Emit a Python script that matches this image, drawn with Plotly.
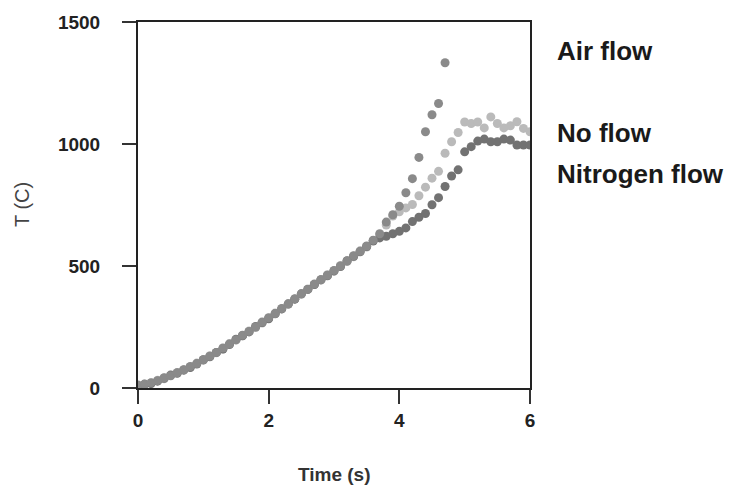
import plotly.graph_objects as go

# ---- data ----
time_common = [0.0, 0.1, 0.2, 0.3, 0.4, 0.5, 0.6, 0.7, 0.8, 0.9,
               1.0, 1.1, 1.2, 1.3, 1.4, 1.5, 1.6, 1.7, 1.8, 1.9,
               2.0, 2.1, 2.2, 2.3, 2.4, 2.5, 2.6, 2.7, 2.8, 2.9,
               3.0, 3.1, 3.2, 3.3, 3.4, 3.5, 3.6, 3.7]

air_time = time_common + [3.8, 3.9, 4.0, 4.1, 4.2, 4.3, 4.4, 4.5, 4.6, 4.7]
air_temp = [12, 16, 22, 30, 42, 50, 62, 75, 88, 100,
            116, 130, 146, 164, 180, 198, 216, 232, 250, 270,
            288, 305, 326, 344, 366, 386, 404, 426, 444, 462,
            482, 500, 520, 542, 560, 582, 606, 632,
            680, 710, 745, 800, 858, 945, 1050, 1120, 1166, 1333]

noflow_time = time_common + [3.8, 3.9, 4.0, 4.1, 4.2, 4.3, 4.4, 4.5, 4.6, 4.7,
                             4.8, 4.9, 5.0, 5.1, 5.2, 5.3, 5.4, 5.5, 5.6, 5.7,
                             5.8, 5.9, 6.0]
noflow_temp = [8, 14, 20, 32, 38, 54, 64, 72, 86, 102,
               114, 132, 144, 160, 182, 196, 214, 234, 248, 266,
               286, 307, 324, 346, 364, 384, 406, 424, 442, 464,
               478, 502, 518, 538, 562, 578, 604, 628,
               668, 705, 722, 738, 752, 788, 823, 860, 888, 962,
               1009, 1047, 1090, 1084, 1090, 1066, 1111, 1084, 1066, 1075,
               1091, 1064, 1050]

nitrogen_time = noflow_time
nitrogen_temp = [10, 15, 18, 28, 40, 52, 60, 74, 84, 98,
                 116, 128, 146, 160, 178, 200, 214, 230, 252, 268,
                 284, 304, 324, 344, 364, 386, 404, 424, 444, 460,
                 480, 498, 522, 540, 558, 580, 602, 615,
                 622, 632, 642, 656, 682, 700, 715, 751, 780, 826,
                 869, 894, 968, 989, 1012, 1020, 1009, 1009, 1020, 1016,
                 996, 996, 996]

x_ticks = [0, 2, 4, 6]
y_ticks = [0, 500, 1000, 1500]

FONT = "Liberation Sans, Arial, sans-serif"

fig = go.Figure()
fig.add_trace(go.Scatter(x=noflow_time, y=noflow_temp, mode="markers", name="No flow",
                         marker=dict(size=9, color="#bababa")))
fig.add_trace(go.Scatter(x=nitrogen_time, y=nitrogen_temp, mode="markers", name="Nitrogen flow",
                         marker=dict(size=9, color="#727272")))
fig.add_trace(go.Scatter(x=air_time, y=air_temp, mode="markers", name="Air flow",
                         marker=dict(size=9, color="#8a8a8a")))

axis_common = dict(showline=True, linecolor="#222", linewidth=2, mirror=True,
                   ticks="outside", ticklen=14, tickwidth=2, tickcolor="#333",
                   showgrid=False, zeroline=False,
                   tickfont=dict(family=FONT, size=19, color="#222", weight="bold"))

fig.update_xaxes(range=[0, 6], tickvals=x_ticks, ticklabelstandoff=0, **axis_common)
fig.update_yaxes(range=[0, 1500], tickvals=y_ticks, ticklabelstandoff=18, **axis_common)

W, H = 729, 491
ML, MR, MT, MB = 138, 199, 19, 103
pw = W - ML - MR
ph = H - MT - MB

labels = [("Air flow", 1380), ("No flow", 1046), ("Nitrogen flow", 879)]
anns = []
for text, yv in labels:
    anns.append(dict(text=text, x=(555 - ML) / pw, y=yv, xref="paper", yref="y",
                     xanchor="left", yanchor="middle", showarrow=False,
                     font=dict(family=FONT, size=26, color="#1a1a1a", weight="bold")))
anns.append(dict(text="Time (s)", x=0.5, y=(H - MB - 475) / ph, xref="paper", yref="paper",
                 showarrow=False, xanchor="center", yanchor="middle",
                 font=dict(family=FONT, size=19, color="#333", weight="bold")))
anns.append(dict(text="T (C)", x=(22 - ML) / pw, y=0.5, xref="paper", yref="paper",
                 showarrow=False, textangle=-90, xanchor="center", yanchor="middle",
                 font=dict(family=FONT, size=20, color="#444")))

fig.update_layout(width=W, height=H,
                  margin=dict(l=ML, r=MR, t=MT, b=MB),
                  paper_bgcolor="white", plot_bgcolor="white",
                  showlegend=False, annotations=anns)

fig.write_html("out.html", config={"displayModeBar": False},
               post_script="document.body.style.margin='0';document.body.style.overflow='hidden';")
